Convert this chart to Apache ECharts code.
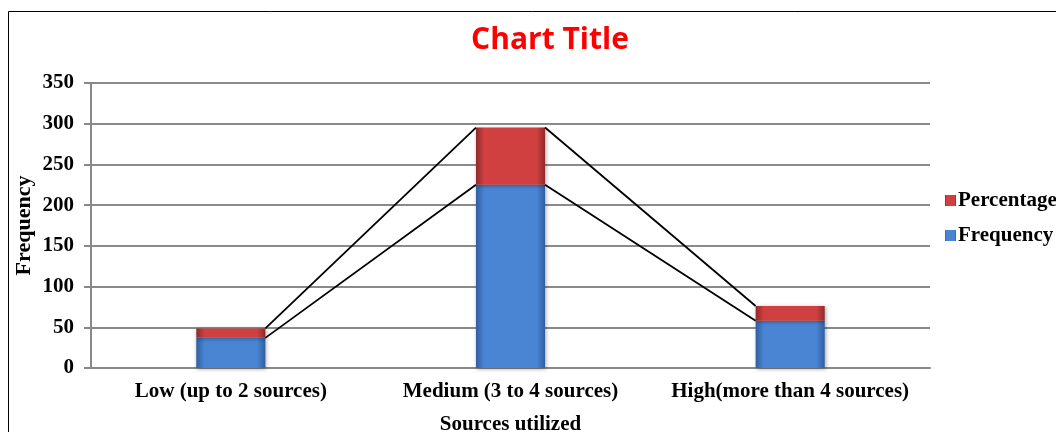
<!DOCTYPE html>
<html>
<head>
<meta charset="utf-8">
<script src="https://cdn.jsdelivr.net/npm/echarts@6/dist/echarts.min.js"></script>
<style>
  html, body { margin: 0; padding: 0; background: #fff; }
  #chart { width: 1056px; height: 432px; }
</style>
</head>
<body>
<div id="chart"></div>
<script>
// data
const categories = ['Low (up to 2 sources)', 'Medium (3 to 4 sources)', 'High(more than 4 sources)']
const frequency = [37, 225, 58]
const percentage = [11.6, 70.3, 18.1]

const serif = '"Liberation Serif", "DejaVu Serif", serif'

// stack tops, used for the series lines between bars
const freqTop = frequency.slice()
const totalTop = frequency.map((v, i) => v + percentage[i])
const linkData = []
for (let i = 0; i < categories.length - 1; i++) {
  linkData.push([i, freqTop[i], totalTop[i], freqTop[i + 1], totalTop[i + 1]])
}

const BAR_RATIO = 0.247

function bevel (edge, mid) {
  return {
    type: 'linear', x: 0, y: 0, x2: 1, y2: 0,
    colorStops: [
      { offset: 0, color: edge },
      { offset: 0.12, color: mid },
      { offset: 0.88, color: mid },
      { offset: 1, color: edge }
    ]
  }
}

let chart = echarts.init(document.getElementById('chart'))

const option = {
  animation: false,
  title: {
    text: 'Chart Title',
    left: 545,
    top: 20,
    textAlign: 'center',
    textStyle: {
      color: '#ff0000',
      fontSize: 30,
      fontWeight: 'bold',
      fontFamily: '"Open Sans", "Liberation Sans", sans-serif'
    }
  },
  legend: {
    orient: 'vertical',
    left: 940,
    top: 185,
    itemGap: 14,
    itemWidth: 11,
    itemHeight: 11,
    icon: 'rect',
    data: ['Percentage', 'Frequency'],
    textStyle: { fontFamily: serif, fontSize: 21, fontWeight: 'bold', color: '#000', padding: [0, 0, 0, -3] }
  },
  grid: { left: 91, right: 126, top: 83, bottom: 64, outerBoundsMode: 'none' },
  xAxis: {
    type: 'category',
    data: categories,
    name: 'Sources utilized',
    nameLocation: 'middle',
    nameGap: 46,
    nameTextStyle: { fontFamily: serif, fontSize: 21, fontWeight: 'bold', color: '#000' },
    axisLine: { lineStyle: { color: '#888', width: 2 } },
    axisTick: { show: false },
    axisLabel: { interval: 0, hideOverlap: false, fontFamily: serif, fontSize: 21, fontWeight: 'bold', color: '#000', margin: 13 }
  },
  yAxis: {
    type: 'value',
    min: 0,
    max: 350,
    interval: 50,
    name: 'Frequency',
    nameLocation: 'middle',
    nameGap: 56,
    nameMoveOverlap: false,
    nameTextStyle: { fontFamily: serif, fontSize: 22, fontWeight: 'bold', color: '#000' },
    axisLine: { show: true, lineStyle: { color: '#888', width: 2 } },
    axisTick: { show: true, inside: false, length: 7, lineStyle: { color: '#888', width: 2 } },
    axisLabel: { fontFamily: serif, fontSize: 21, fontWeight: 'bold', color: '#000', margin: 17 },
    splitLine: { lineStyle: { color: '#8a8a8a', width: 2 } }
  },
  series: [
    {
      name: 'Frequency',
      type: 'bar',
      stack: 'all',
      barWidth: (BAR_RATIO * 100) + '%',
      data: frequency,
      itemStyle: {
        color: bevel('#2f5e9f', '#4a85d4'),
        shadowColor: 'rgba(0,0,0,0.35)',
        shadowBlur: 4,
        shadowOffsetX: 1,
        shadowOffsetY: 1
      }
    },
    {
      name: 'Percentage',
      type: 'bar',
      stack: 'all',
      data: percentage,
      itemStyle: {
        color: bevel('#8e2a2a', '#d04040'),
        shadowColor: 'rgba(0,0,0,0.35)',
        shadowBlur: 4,
        shadowOffsetX: 1,
        shadowOffsetY: 1
      }
    },
    {
      // series lines joining the stack tops of neighbouring bars
      type: 'custom',
      silent: true,
      z: 5,
      data: linkData,
      renderItem: function (params, api) {
        const band = api.size([1, 0])[0]
        const half = band * BAR_RATIO / 2
        const i = api.value(0)
        const a1 = api.coord([i, api.value(1)])
        const a2 = api.coord([i, api.value(2)])
        const b1 = api.coord([i + 1, api.value(3)])
        const b2 = api.coord([i + 1, api.value(4)])
        const style = { stroke: '#000', lineWidth: 1.8, fill: null }
        return {
          type: 'group',
          children: [
            { type: 'line', shape: { x1: a1[0] + half, y1: a1[1], x2: b1[0] - half, y2: b1[1] }, style: style },
            { type: 'line', shape: { x1: a2[0] + half, y1: a2[1], x2: b2[0] - half, y2: b2[1] }, style: style }
          ]
        }
      }
    }
  ],
  graphic: [
    {
      type: 'rect',
      shape: { x: 8.5, y: 11.5, width: 1200, height: 600 },
      style: { fill: null, stroke: '#000', lineWidth: 1 },
      silent: true,
      z: 100
    }
  ]
}

chart.setOption(option)
</script>
</body>
</html>
